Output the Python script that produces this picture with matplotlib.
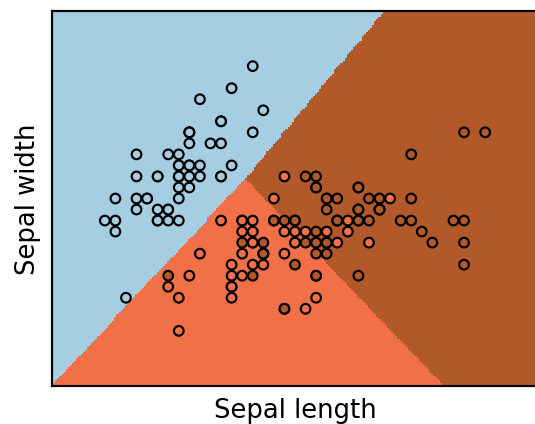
import numpy as np
import matplotlib
matplotlib.use("Agg")
import matplotlib.pyplot as plt
from matplotlib.colors import LinearSegmentedColormap

# iris: sepal length / sepal width, 50 samples per species
sepal_length = [
    5.1, 4.9, 4.7, 4.6, 5.0, 5.4, 4.6, 5.0, 4.4, 4.9, 5.4, 4.8, 4.8, 4.3, 5.8, 5.7, 5.4, 5.1, 5.7, 5.1,
    5.4, 5.1, 4.6, 5.1, 4.8, 5.0, 5.0, 5.2, 5.2, 4.7, 4.8, 5.4, 5.2, 5.5, 4.9, 5.0, 5.5, 4.9, 4.4, 5.1,
    5.0, 4.5, 4.4, 5.0, 5.1, 4.8, 5.1, 4.6, 5.3, 5.0,
    7.0, 6.4, 6.9, 5.5, 6.5, 5.7, 6.3, 4.9, 6.6, 5.2, 5.0, 5.9, 6.0, 6.1, 5.6, 6.7, 5.6, 5.8, 6.2, 5.6,
    5.9, 6.1, 6.3, 6.1, 6.4, 6.6, 6.8, 6.7, 6.0, 5.7, 5.5, 5.5, 5.8, 6.0, 5.4, 6.0, 6.7, 6.3, 5.6, 5.5,
    5.5, 6.1, 5.8, 5.0, 5.6, 5.7, 5.7, 6.2, 5.1, 5.7,
    6.3, 5.8, 7.1, 6.3, 6.5, 7.6, 4.9, 7.3, 6.7, 7.2, 6.5, 6.4, 6.8, 5.7, 5.8, 6.4, 6.5, 7.7, 7.7, 6.0,
    6.9, 5.6, 7.7, 6.3, 6.7, 7.2, 6.2, 6.1, 6.4, 7.2, 7.4, 7.9, 6.4, 6.3, 6.1, 7.7, 6.3, 6.4, 6.0, 6.9,
    6.7, 6.9, 5.8, 6.8, 6.7, 6.7, 6.3, 6.5, 6.2, 5.9,
]
sepal_width = [
    3.5, 3.0, 3.2, 3.1, 3.6, 3.9, 3.4, 3.4, 2.9, 3.1, 3.7, 3.4, 3.0, 3.0, 4.0, 4.4, 3.9, 3.5, 3.8, 3.8,
    3.4, 3.7, 3.6, 3.3, 3.4, 3.0, 3.4, 3.5, 3.4, 3.2, 3.1, 3.4, 4.1, 4.2, 3.1, 3.2, 3.5, 3.6, 3.0, 3.4,
    3.5, 2.3, 3.2, 3.5, 3.8, 3.0, 3.8, 3.2, 3.7, 3.3,
    3.2, 3.2, 3.1, 2.3, 2.8, 2.8, 3.3, 2.4, 2.9, 2.7, 2.0, 3.0, 2.2, 2.9, 2.9, 3.1, 3.0, 2.7, 2.2, 2.5,
    3.2, 2.8, 2.5, 2.8, 2.9, 3.0, 2.8, 3.0, 2.9, 2.6, 2.4, 2.4, 2.7, 2.7, 3.0, 3.4, 3.1, 2.3, 3.0, 2.5,
    2.6, 3.0, 2.6, 2.3, 2.7, 3.0, 2.9, 2.9, 2.5, 2.8,
    3.3, 2.7, 3.0, 2.9, 3.0, 3.0, 2.5, 2.9, 2.5, 3.6, 3.2, 2.7, 3.0, 2.5, 2.8, 3.2, 3.0, 3.8, 2.6, 2.2,
    3.2, 2.8, 2.8, 2.7, 3.3, 3.2, 2.8, 3.0, 2.8, 3.0, 2.8, 3.8, 2.8, 2.8, 2.6, 3.0, 3.4, 3.1, 3.0, 3.1,
    3.1, 3.1, 2.7, 3.2, 3.3, 3.0, 2.5, 3.0, 3.4, 3.0,
]
species = [0] * 50 + [1] * 50 + [2] * 50


def fit_binary(A, t, C=1e5, iters=100):
    # L2-regularised logistic regression (bias included in A), Newton steps
    w = np.zeros(A.shape[1])
    for _ in range(iters):
        p = 0.5 * (1 + np.tanh(0.5 * (A @ w)))
        g = A.T @ (p - t) + w / C
        H = A.T @ (A * (p * (1 - p))[:, None]) + np.eye(A.shape[1]) / C
        w = w - np.linalg.solve(H, g)
    return w


X = np.column_stack([sepal_length, sepal_width])
Y = np.array(species)
A = np.column_stack([X, np.ones(len(X))])

# one-vs-rest
W = np.array([fit_binary(A, (Y == k).astype(float)) for k in range(3)])

h = .02
x_min, x_max = X[:, 0].min() - .5, X[:, 0].max() + .5
y_min, y_max = X[:, 1].min() - .5, X[:, 1].max() + .5
xx, yy = np.meshgrid(np.arange(x_min, x_max, h), np.arange(y_min, y_max, h))
grid = np.column_stack([xx.ravel(), yy.ravel(), np.ones(xx.size)])
Z = np.argmax(grid @ W.T, axis=1).reshape(xx.shape)

cmap = LinearSegmentedColormap.from_list("paired", plt.cm.Paired.colors, N=256)

plt.rcParams['font.size'] = 12
fig = plt.figure(figsize=(535 / 155, 425 / 155), dpi=155)
ax = fig.add_axes([52 / 535, 38 / 425, 486 / 535, 375 / 425])
ax.pcolormesh(xx, yy, Z, cmap=cmap, shading="auto", vmin=0, vmax=2)

ax.scatter(X[:, 0], X[:, 1], s=20, c=Y, edgecolors="k", cmap=cmap, vmin=0, vmax=2, linewidths=1.0)
ax.set_xlabel("Sepal length", labelpad=5)
ax.set_ylabel("Sepal width", labelpad=5)

ax.set_xlim(xx.min(), xx.max())
ax.set_ylim(yy.min(), yy.max())
ax.set_xticks(())
ax.set_yticks(())
for s in ax.spines.values():
    s.set_linewidth(1.0)

fig.savefig("out.png", dpi=155)
